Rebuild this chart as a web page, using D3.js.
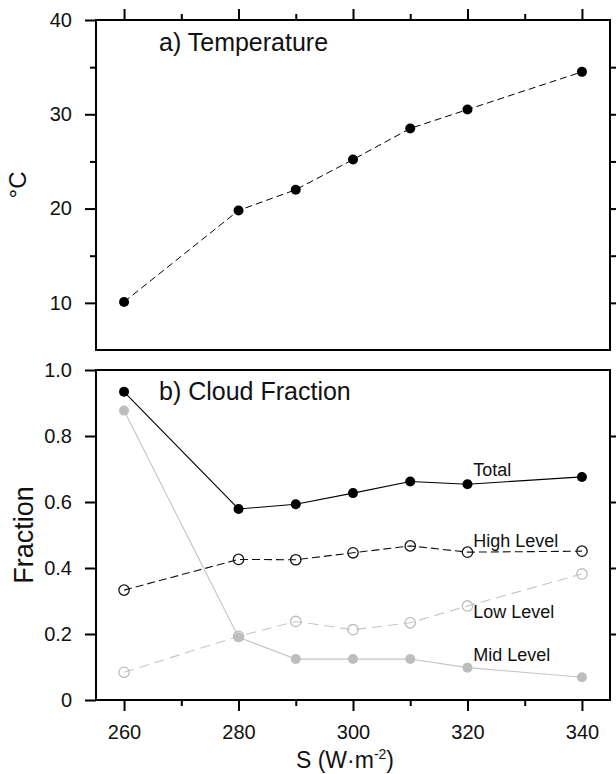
<!DOCTYPE html>
<html>
<head>
<meta charset="utf-8">
<script src="https://cdn.jsdelivr.net/npm/d3@7"></script>
<style>
  html, body { margin: 0; padding: 0; background: #fff; }
  svg { display: block; font-family: "Liberation Sans", Arial, Helvetica, sans-serif; }
</style>
</head>
<body>
<svg id="chart" width="616" height="774"></svg>
<script>
// ---------- data ----------
const sValues = [260, 280, 290, 300, 310, 320, 340];
const temperature = [10.1, 19.8, 22.0, 25.2, 28.5, 30.5, 34.5];
const totalCloud = [0.934, 0.579, 0.593, 0.627, 0.662, 0.654, 0.676];
const highCloud  = [0.333, 0.426, 0.425, 0.446, 0.467, 0.448, 0.451];
const lowCloud   = [0.084, 0.193, 0.238, 0.213, 0.234, 0.285, 0.382];
const midCloud   = [0.877, 0.190, 0.124, 0.124, 0.124, 0.098, 0.069];

const xMajorTicks = [260, 280, 300, 320, 340];
const xMinorTicks = [270, 290, 310, 330];
const tempMajorTicks = [10, 20, 30, 40];
const tempMinorTicks = [15, 25, 35];
const fracTicks = [0, 0.2, 0.4, 0.6, 0.8, 1.0];
const fracTickLabels = ["0", "0.2", "0.4", "0.6", "0.8", "1.0"];

const seriesLabels = [
  { text: "Total", s: 321, v: 0.68 },
  { text: "High Level", s: 321, v: 0.464 },
  { text: "Low Level", s: 321, v: 0.248 },
  { text: "Mid Level", s: 321, v: 0.117 }
];

// ---------- layout ----------
const svg = d3.select("#chart");
const L = 96, R = 610;
const topY0 = 20, topY1 = 350;
const botY0 = 370, botY1 = 700;
const majorLen = 11, minorLen = 6;
const tickFont = 20;

const x = d3.scaleLinear().domain([255.1, 344.9]).range([L, R]);
const yT = d3.scaleLinear().domain([5, 40]).range([topY1, topY0]);
const yB = d3.scaleLinear().domain([0, 1]).range([botY1, botY0]);

function styleAxis(g) {
  g.select(".domain").remove();
  g.selectAll(".tick line").attr("stroke", "#000").attr("stroke-width", 2);
  g.selectAll(".tick text").attr("font-size", tickFont).attr("fill", "#111")
    .attr("font-family", '"Liberation Sans", Arial, Helvetica, sans-serif');
}

// ---------- top panel ----------
const gTop = svg.append("g");
gTop.append("g").attr("transform", `translate(0,${topY0})`)
  .call(d3.axisTop(x).tickValues(xMajorTicks).tickSize(majorLen).tickFormat(""))
  .call(styleAxis);
gTop.append("g").attr("transform", `translate(0,${topY0})`)
  .call(d3.axisTop(x).tickValues(xMinorTicks).tickSize(minorLen).tickFormat(""))
  .call(styleAxis);
gTop.append("g").attr("transform", `translate(${L},0)`)
  .call(d3.axisLeft(yT).tickValues(tempMajorTicks).tickSize(majorLen).tickPadding(13).tickFormat(d3.format("d")))
  .call(styleAxis);
gTop.append("g").attr("transform", `translate(${L},0)`)
  .call(d3.axisLeft(yT).tickValues(tempMinorTicks).tickSize(minorLen).tickFormat(""))
  .call(styleAxis);
gTop.append("g").attr("transform", `translate(${R},0)`)
  .call(d3.axisRight(yT).tickValues(tempMajorTicks.filter(d => d < 40)).tickSize(majorLen).tickFormat(""))
  .call(styleAxis);
gTop.append("g").attr("transform", `translate(${R},0)`)
  .call(d3.axisRight(yT).tickValues(tempMinorTicks).tickSize(minorLen).tickFormat(""))
  .call(styleAxis);
gTop.append("rect").attr("x", L).attr("y", topY0).attr("width", R - L).attr("height", topY1 - topY0)
  .attr("fill", "none").attr("stroke", "#000").attr("stroke-width", 2);

const tempData = sValues.map((s, i) => ({ s, v: temperature[i] }));
gTop.append("path").datum(tempData)
  .attr("d", d3.line().x(d => x(d.s)).y(d => yT(d.v)))
  .attr("fill", "none").attr("stroke", "#000").attr("stroke-width", 1)
  .attr("stroke-dasharray", "7,4");
gTop.selectAll("circle.t").data(tempData).join("circle")
  .attr("cx", d => x(d.s)).attr("cy", d => yT(d.v)).attr("r", 5).attr("fill", "#000");

gTop.append("text").attr("x", 159).attr("y", 51).attr("font-size", 25).attr("fill", "#111")
  .text("a) Temperature");
gTop.append("text").attr("transform", `translate(26,${(topY0 + topY1) / 2}) rotate(-90)`)
  .attr("text-anchor", "middle").attr("font-size", 24).attr("fill", "#111").text("°C");

// ---------- bottom panel ----------
const gBot = svg.append("g");
gBot.append("g").attr("transform", `translate(0,${botY1})`)
  .call(d3.axisBottom(x).tickValues(xMajorTicks).tickSize(majorLen).tickPadding(14).tickFormat(d3.format("d")))
  .call(styleAxis);
gBot.append("g").attr("transform", `translate(0,${botY1})`)
  .call(d3.axisBottom(x).tickValues(xMinorTicks).tickSize(minorLen).tickFormat(""))
  .call(styleAxis);
gBot.append("g").attr("transform", `translate(${L},0)`)
  .call(d3.axisLeft(yB).tickValues(fracTicks).tickSize(majorLen).tickPadding(13)
    .tickFormat((d, i) => fracTickLabels[i]))
  .call(styleAxis);
gBot.append("g").attr("transform", `translate(${R},0)`)
  .call(d3.axisRight(yB).tickValues(fracTicks.filter(d => d > 0 && d < 1)).tickSize(majorLen).tickFormat(""))
  .call(styleAxis);
gBot.append("rect").attr("x", L).attr("y", botY0).attr("width", R - L).attr("height", botY1 - botY0)
  .attr("fill", "none").attr("stroke", "#000").attr("stroke-width", 2);

const line = d3.line().x(d => x(d.s)).y(d => yB(d.v));
const mk = arr => sValues.map((s, i) => ({ s, v: arr[i] }));

const series = [
  { data: mk(midCloud),   stroke: "#c4c4c4", dash: null,    marker: "filled", color: "#bdbdbd" },
  { data: mk(lowCloud),   stroke: "#c4c4c4", dash: "10,6",  marker: "open",   color: "#bdbdbd" },
  { data: mk(highCloud),  stroke: "#111",    dash: "8,4",   marker: "open",   color: "#111" },
  { data: mk(totalCloud), stroke: "#000",    dash: null,    marker: "filled", color: "#000" }
];

series.forEach(sr => {
  gBot.append("path").datum(sr.data).attr("d", line)
    .attr("fill", "none").attr("stroke", sr.stroke).attr("stroke-width", 1.1)
    .attr("stroke-dasharray", sr.dash);
});
series.forEach(sr => {
  const c = gBot.append("g").selectAll("circle").data(sr.data).join("circle")
    .attr("cx", d => x(d.s)).attr("cy", d => yB(d.v)).attr("r", 5);
  if (sr.marker === "filled") c.attr("fill", sr.color);
  else c.attr("fill", "none").attr("stroke", sr.color).attr("stroke-width", 1.3).attr("r", 5.2);
});

gBot.selectAll("text.lab").data(seriesLabels).join("text").attr("class", "lab")
  .attr("x", d => x(d.s)).attr("y", d => yB(d.v)).attr("font-size", 18).attr("fill", "#111")
  .text(d => d.text);

gBot.append("text").attr("x", 159).attr("y", 400).attr("font-size", 25).attr("fill", "#111")
  .text("b) Cloud Fraction");
gBot.append("text").attr("transform", `translate(33,${(botY0 + botY1) / 2}) rotate(-90)`)
  .attr("text-anchor", "middle").attr("font-size", 27).attr("fill", "#111").text("Fraction");

const xt = svg.append("text").attr("x", (L + R) / 2 - 8).attr("y", 768)
  .attr("text-anchor", "middle").attr("font-size", 23).attr("fill", "#111");
xt.append("tspan").text("S (W·m");
xt.append("tspan").attr("font-size", 14).attr("dy", -9).text("-2");
xt.append("tspan").attr("dy", 9).text(")");
</script>
</body>
</html>
